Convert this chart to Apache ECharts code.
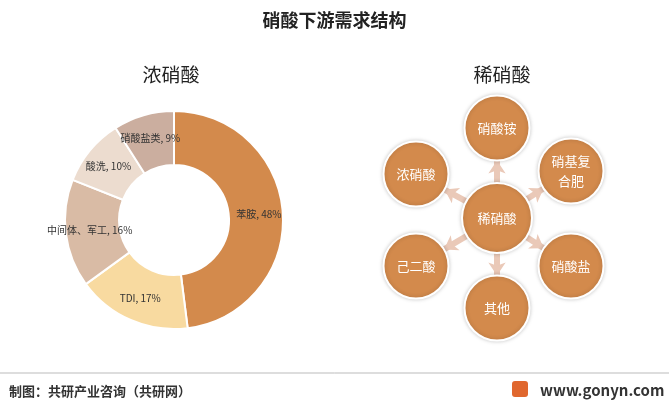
<!DOCTYPE html>
<html><head><meta charset="utf-8">
<script src="https://cdn.jsdelivr.net/npm/echarts@6/dist/echarts.min.js"></script>
<style>html,body{margin:0;padding:0;background:#fff}#c{width:669px;height:408px}</style>
</head><body><div id="c"></div>
<script>
const pieNames = ['苯胺','TDI','中间体、军工','酸洗','硝酸盐类'];
const pieValues = [48,17,16,10,9];
const pieColors = ['#D38A4C','#F8DAA0','#D9BBA5','#ECDCCF','#CBAE9F'];
const centerNode = '稀硝酸';
const outerNodes = ['硝酸铵','硝基复\n合肥','硝酸盐','其他','己二酸','浓硝酸'];
const nodeX = [497,571,571,497,416,416];
const nodeY = [128,171,266,308,266,174];

const chart = echarts.init(document.getElementById('c'));
const nodes = [{name:centerNode,x:497,y:218,symbolSize:70}].concat(outerNodes.map((n,i)=>({name:n,x:nodeX[i],y:nodeY[i],symbolSize:65})));
const links = outerNodes.map(n=>({source:centerNode,target:n}));
chart.setOption({
  animation:false,
  title:[
    {text:'硝酸下游需求结构',left:'center',top:6,textStyle:{fontSize:18,fontWeight:'bold',color:'#222',fontFamily:'Noto Sans CJK SC'}},
    {text:'浓硝酸',left:166,top:60,textAlign:'center',textStyle:{fontSize:19,fontWeight:'normal',color:'#222',fontFamily:'Noto Sans CJK SC'}},
    {text:'稀硝酸',left:497,top:60,textAlign:'center',textStyle:{fontSize:19,fontWeight:'normal',color:'#222',fontFamily:'Noto Sans CJK SC'}},
    {text:'制图：共研产业咨询（共研网）',left:4,top:380,textStyle:{fontSize:13,fontWeight:'bold',color:'#333',fontFamily:'Noto Sans CJK SC'}},
    {text:'www.gonyn.com',left:535,top:378,textStyle:{fontSize:15,fontWeight:'bold',color:'#333',fontFamily:'Noto Sans CJK SC'}}
  ],
  graphic:[
    {type:'line',shape:{x1:0,y1:373,x2:669,y2:373},style:{stroke:'#bbb',lineWidth:1}},
    {type:'rect',shape:{x:512,y:381,width:16,height:16,r:3},style:{fill:'#E0672E'}}
  ],
  series:[
    {type:'pie',center:[174,220],radius:[55,109],startAngle:90,clockwise:true,
     label:{position:'inside',formatter:'{b}, {c}%',fontSize:10,color:'#333',fontFamily:'Noto Sans CJK SC'},
     labelLine:{show:false},
     itemStyle:{borderColor:'#fff',borderWidth:2},
     data:pieNames.map((n,i)=>({name:n,value:pieValues[i],itemStyle:{color:pieColors[i]}}))},
    {type:'graph',layout:'none',left:416,top:128,width:155,height:180,
     symbol:'circle',
     itemStyle:{color:'#D38A4C',borderColor:'#fff',borderWidth:2,shadowBlur:4,shadowColor:'rgba(0,0,0,0.2)'},
     label:{show:true,color:'#fff',fontSize:13,fontFamily:'Noto Sans CJK SC',lineHeight:20},
     edgeSymbol:['none','arrow'],edgeSymbolSize:13,
     lineStyle:{color:'#EAC9B8',width:6,opacity:1},
     data:nodes,links:links}
  ]
});
</script></body></html>
